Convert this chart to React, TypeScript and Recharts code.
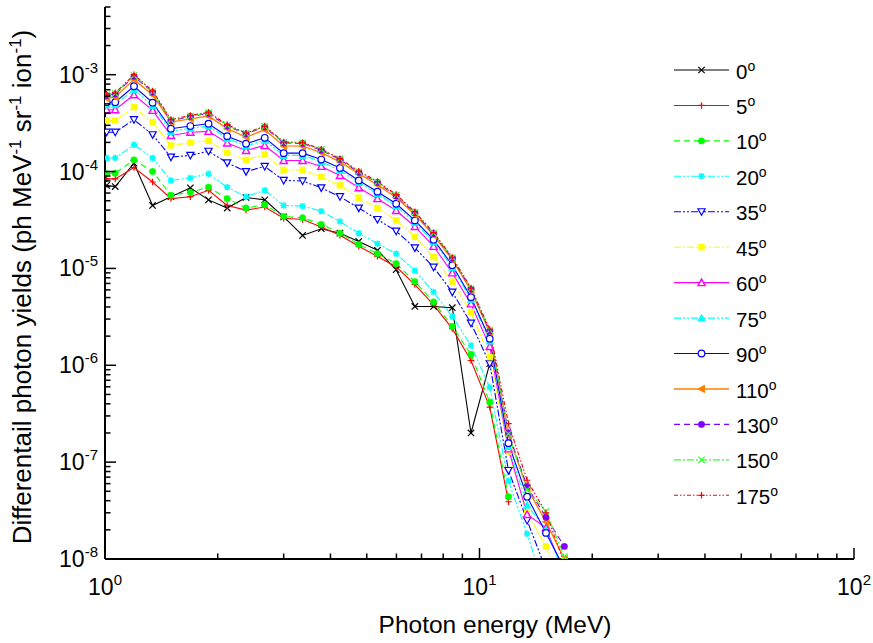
import React from 'react';
import { LineChart, Line, XAxis, YAxis, Legend } from 'recharts';

// Photon energy (MeV)
const ENERGY = [1.01, 1.065, 1.195, 1.34, 1.5, 1.69, 1.89, 2.12, 2.38, 2.67, 3.0, 3.37, 3.78, 4.24, 4.76, 5.34, 5.99, 6.72, 7.54, 8.46, 9.49, 10.65, 11.95, 13.4, 15.05, 16.85];

// Differential photon yields per angle
const Y0 = [7.2e-5, 7.0e-5, 1.22e-4, 4.47e-5, 5.5e-5, 6.8e-5, 5.1e-5, 4.2e-5, 5.4e-5, 5.1e-5, 3.4e-5, 2.19e-5, 2.57e-5, 2.31e-5, 1.9e-5, 1.54e-5, 9.7e-6, 4.05e-6, 4.05e-6, 3.93e-6, 2.0e-7, 1.04e-6, null, null, null, null];
const Y5 = [8.4e-5, 8.4e-5, 1.1e-4, 7.8e-5, 5.25e-5, 5.5e-5, 6.4e-5, 4.47e-5, 4.0e-5, 4.3e-5, 3.3e-5, 3.2e-5, 2.67e-5, 2.2e-5, 1.69e-5, 1.33e-5, 1.04e-5, 6.8e-6, 4.2e-6, 2.39e-6, 1.12e-6, 3.7e-7, 3.9e-8, null, null, null];
const Y10 = [9.5e-5, 9.6e-5, 1.32e-4, 1.0e-4, 5.7e-5, 6.1e-5, 6.9e-5, 5.25e-5, 4.2e-5, 4.54e-5, 3.44e-5, 3.33e-5, 2.85e-5, 2.31e-5, 1.77e-5, 1.42e-5, 1.12e-5, 7.3e-6, 4.5e-6, 2.52e-6, 1.29e-6, 4.16e-7, 4.4e-8, null, null, null];
const Y20 = [1.38e-4, 1.38e-4, 1.89e-4, 1.38e-4, 8.1e-5, 8.6e-5, 9.5e-5, 6.9e-5, 5.5e-5, 6.4e-5, 4.47e-5, 4.4e-5, 3.9e-5, 3.05e-5, 2.31e-5, 1.8e-5, 1.42e-5, 9.5e-6, 5.7e-6, 3.19e-6, 1.6e-6, 5.9e-7, 6.4e-8, 1.82e-8, 4.5e-9, null];
const Y35 = [2.55e-4, 2.55e-4, 3.43e-4, 2.4e-4, 1.41e-4, 1.47e-4, 1.62e-4, 1.23e-4, 1.0e-4, 1.13e-4, 8.1e-5, 8.0e-5, 6.8e-5, 5.5e-5, 4.2e-5, 3.2e-5, 2.43e-5, 1.63e-5, 1.03e-5, 5.7e-6, 2.72e-6, 1.04e-6, 8.2e-8, 2.5e-8, 7.8e-9, null];
const Y45 = [3.37e-4, 3.37e-4, 4.63e-4, 3.24e-4, 1.86e-4, 1.99e-4, 2.08e-4, 1.57e-4, 1.32e-4, 1.5e-4, 1.04e-4, 1.04e-4, 8.8e-5, 7.2e-5, 5.37e-5, 4.2e-5, 3.13e-5, 2.12e-5, 1.31e-5, 7.3e-6, 3.54e-6, 1.21e-6, 1.29e-7, 3.0e-8, 1.35e-8, 4e-9];
const Y60 = [4.35e-4, 4.35e-4, 6.2e-4, 4.28e-4, 2.36e-4, 2.55e-4, 2.6e-4, 1.97e-4, 1.65e-4, 1.86e-4, 1.3e-4, 1.3e-4, 1.13e-4, 9.1e-5, 6.8e-5, 5.25e-5, 3.96e-5, 2.71e-5, 1.69e-5, 9.0e-6, 4.3e-6, 1.56e-6, 1.37e-7, 2.88e-8, 2.1e-8, 7e-9];
const Y75 = [4.9e-4, 4.9e-4, 7.0e-4, 4.8e-4, 2.6e-4, 2.8e-4, 2.95e-4, 2.2e-4, 1.84e-4, 2.1e-4, 1.47e-4, 1.47e-4, 1.26e-4, 1.03e-4, 7.7e-5, 5.9e-5, 4.4e-5, 2.97e-5, 1.88e-5, 1.02e-5, 4.8e-6, 1.78e-6, 1.45e-7, 3.6e-8, 2.0e-8, 7e-9];
const Y90 = [5.2e-4, 5.2e-4, 7.6e-4, 5.14e-4, 2.77e-4, 2.95e-4, 3.12e-4, 2.32e-4, 1.94e-4, 2.23e-4, 1.55e-4, 1.55e-4, 1.33e-4, 1.09e-4, 8.1e-5, 6.2e-5, 4.65e-5, 3.13e-5, 1.98e-5, 1.08e-5, 5.05e-6, 1.88e-6, 1.57e-7, 4.4e-8, 1.86e-8, 8e-9];
const Y110 = [5.7e-4, 5.9e-4, 8.9e-4, 6.2e-4, 3.24e-4, 3.5e-4, 3.74e-4, 2.77e-4, 2.27e-4, 2.7e-4, 1.84e-4, 1.83e-4, 1.57e-4, 1.26e-4, 9.5e-5, 7.3e-5, 5.4e-5, 3.6e-5, 2.2e-5, 1.23e-5, 5.9e-6, 2.2e-6, 1.9e-7, 5.4e-8, 2.42e-8, 1.0e-8];
const Y130 = [6.1e-4, 6.3e-4, 9.6e-4, 6.6e-4, 3.35e-4, 3.7e-4, 3.98e-4, 2.95e-4, 2.45e-4, 2.88e-4, 1.97e-4, 1.95e-4, 1.66e-4, 1.33e-4, 9.8e-5, 7.7e-5, 5.6e-5, 3.75e-5, 2.28e-5, 1.27e-5, 6.1e-6, 2.25e-6, 2.0e-7, 5.6e-8, 2.7e-8, 1.35e-8];
const Y150 = [6.2e-4, 6.4e-4, 9.8e-4, 6.7e-4, 3.4e-4, 3.74e-4, 4.05e-4, 3.0e-4, 2.48e-4, 2.92e-4, 2.0e-4, 1.98e-4, 1.69e-4, 1.35e-4, 1.0e-4, 7.8e-5, 5.7e-5, 3.8e-5, 2.32e-5, 1.29e-5, 6.2e-6, 2.3e-6, 1.96e-7, 5.2e-8, 3.1e-8, 1.06e-8];
const Y175 = [6.3e-4, 6.5e-4, 1.0e-3, 6.8e-4, 3.45e-4, 3.8e-4, 4.1e-4, 3.05e-4, 2.5e-4, 2.95e-4, 2.02e-4, 2.0e-4, 1.7e-4, 1.36e-4, 1.01e-4, 7.9e-5, 5.8e-5, 3.85e-5, 2.35e-5, 1.3e-5, 6.3e-6, 2.35e-6, 2.5e-7, 6.5e-8, 3.0e-8, 9e-9];

const ANGLES = ['0', '5', '10', '20', '35', '45', '60', '75', '90', '110', '130', '150', '175'];
const VALUES = [Y0, Y5, Y10, Y20, Y35, Y45, Y60, Y75, Y90, Y110, Y130, Y150, Y175];

// Ticks
const X_TICKS = [1, 2, 3, 4, 5, 6, 7, 8, 9, 10, 20, 30, 40, 50, 60, 70, 80, 90, 100];
const Y_TICKS = [
  1e-8, 2e-8, 3e-8, 4e-8, 5e-8, 6e-8, 7e-8, 8e-8, 9e-8,
  1e-7, 2e-7, 3e-7, 4e-7, 5e-7, 6e-7, 7e-7, 8e-7, 9e-7,
  1e-6, 2e-6, 3e-6, 4e-6, 5e-6, 6e-6, 7e-6, 8e-6, 9e-6,
  1e-5, 2e-5, 3e-5, 4e-5, 5e-5, 6e-5, 7e-5, 8e-5, 9e-5,
  1e-4, 2e-4, 3e-4, 4e-4, 5e-4, 6e-4, 7e-4, 8e-4, 9e-4,
  1e-3, 2e-3, 3e-3, 4e-3, 5e-3,
];

const FONT = '"Liberation Sans", Arial, sans-serif';

type Style = { color: string; dash?: string; marker: string; width?: number };
const STYLES: Style[] = [
  { color: '#000000', marker: 'x' },
  { color: '#ff0000', marker: 'plus' },
  { color: '#00ff00', dash: '6 4', marker: 'dot' },
  { color: '#00ffff', dash: '7 2 2 2 2 2', marker: 'star' },
  { color: '#0000ff', dash: '7 2 2 2 2 2', marker: 'triDownOpen' },
  { color: '#ffff00', dash: '7 2 2 2', marker: 'square' },
  { color: '#ff00ff', marker: 'triUpOpen' },
  { color: '#00ffff', dash: '7 2 2 2 2 2', marker: 'triUp' },
  { color: '#0000ff', marker: 'circleOpen' },
  { color: '#ff8000', marker: 'triLeft', width: 1.4 },
  { color: '#8000ff', dash: '6 4', marker: 'dot' },
  { color: '#33ff33', dash: '7 2 2 2', marker: 'x' },
  { color: '#ff0000', dash: '4 2 1.5 2 1.5 2', marker: 'plus' },
];

const data = ENERGY.map((e, i) => {
  const row: Record<string, number | null> = { x: e };
  ANGLES.forEach((a, k) => {
    row['a' + a] = VALUES[k][i];
  });
  return row;
});

function markerShape(shape: string, cx: number, cy: number, color: string, key?: string | number) {
  const s = 3.2;
  switch (shape) {
    case 'x':
      return <path key={key} d={`M${cx - s},${cy - s}L${cx + s},${cy + s}M${cx - s},${cy + s}L${cx + s},${cy - s}`} stroke={color} strokeWidth={1.2} fill="none" />;
    case 'plus':
      return <path key={key} d={`M${cx - s},${cy}L${cx + s},${cy}M${cx},${cy - s}L${cx},${cy + s}`} stroke={color} strokeWidth={1.2} fill="none" />;
    case 'dot':
      return <circle key={key} cx={cx} cy={cy} r={3.2} fill={color} stroke={color} strokeWidth={0.5} />;
    case 'star':
      return <path key={key} d={`M${cx - s},${cy}L${cx + s},${cy}M${cx},${cy - s}L${cx},${cy + s}M${cx - 2.4},${cy - 2.4}L${cx + 2.4},${cy + 2.4}M${cx - 2.4},${cy + 2.4}L${cx + 2.4},${cy - 2.4}`} stroke={color} strokeWidth={1.6} fill="none" />;
    case 'triDownOpen':
      return <path key={key} d={`M${cx - 3.6},${cy - 3}L${cx + 3.6},${cy - 3}L${cx},${cy + 3.6}Z`} stroke={color} strokeWidth={1.2} fill="#ffffff" />;
    case 'square':
      return <rect key={key} x={cx - 3.2} y={cy - 3.2} width={6.4} height={6.4} fill={color} />;
    case 'triUpOpen':
      return <path key={key} d={`M${cx - 3.6},${cy + 3}L${cx + 3.6},${cy + 3}L${cx},${cy - 3.6}Z`} stroke={color} strokeWidth={1.4} fill="#ffffff" />;
    case 'triUp':
      return <path key={key} d={`M${cx - 3.6},${cy + 3}L${cx + 3.6},${cy + 3}L${cx},${cy - 3.6}Z`} stroke={color} strokeWidth={1} fill={color} />;
    case 'circleOpen':
      return <circle key={key} cx={cx} cy={cy} r={3.3} fill="#ffffff" stroke={color} strokeWidth={1.2} />;
    case 'triLeft':
      return <path key={key} d={`M${cx + 3},${cy - 3.6}L${cx + 3},${cy + 3.6}L${cx - 3.6},${cy}Z`} stroke={color} strokeWidth={1} fill={color} />;
    default:
      return <circle key={key} cx={cx} cy={cy} r={3} fill={color} />;
  }
}

const isMajor = (v: number) => Math.abs(Math.log10(v) - Math.round(Math.log10(v))) < 1e-6;
const expOf = (v: number) => Math.round(Math.log10(v));

const XTickBottom = (props: any) => {
  const { x, y, payload } = props;
  const v = payload.value;
  const major = isMajor(v);
  return (
    <g>
      <line x1={x} y1={y} x2={x} y2={y - (major ? 11 : 5.5)} stroke="#000" strokeWidth={1.5} />
      {major && (
        <text x={x} y={y + 36} textAnchor="middle" fontFamily={FONT} fontSize={23} fill="#000">
          10<tspan dy={-10} fontSize={15}>{expOf(v)}</tspan>
        </text>
      )}
    </g>
  );
};

const XTickTop = (props: any) => {
  const { x, y, payload } = props;
  const major = isMajor(payload.value);
  return <line x1={x} y1={y} x2={x} y2={y + (major ? 11 : 5.5)} stroke="#000" strokeWidth={1.5} />;
};

const YTickLeft = (props: any) => {
  const { x, y, payload } = props;
  const v = payload.value;
  const major = isMajor(v);
  return (
    <g>
      <line x1={x} y1={y} x2={x + (major ? 11 : 5.5)} y2={y} stroke="#000" strokeWidth={1.5} />
      {major && (
        <text x={x - 7} y={y + 8} textAnchor="end" fontFamily={FONT} fontSize={23} fill="#000">
          10<tspan dy={-10} fontSize={15}>{String(expOf(v))}</tspan>
        </text>
      )}
    </g>
  );
};

const YTickRight = (props: any) => {
  const { x, y, payload } = props;
  const major = isMajor(payload.value);
  return <line x1={x} y1={y} x2={x - (major ? 11 : 5.5)} y2={y} stroke="#000" strokeWidth={1.5} />;
};

const YTitle = () => {
  const cx = 31;
  const cy = 287;
  return (
    <text x={cx} y={cy} transform={`rotate(-90 ${cx} ${cy})`} textAnchor="middle" fontFamily={FONT} fontSize={26} fill="#000">
      Differentail photon yields (ph MeV<tspan dy={-10} fontSize={17}>-1</tspan>
      <tspan dy={10}> sr</tspan>
      <tspan dy={-10} fontSize={17}>-1</tspan>
      <tspan dy={10}> ion</tspan>
      <tspan dy={-10} fontSize={17}>-1</tspan>
      <tspan dy={10}>)</tspan>
    </text>
  );
};

const XTitle = () => (
  <text x={495} y={633} textAnchor="middle" fontFamily={FONT} fontSize={24.5} fill="#000">
    Photon energy (MeV)
  </text>
);

const LegendBox = () => {
  const x0 = 674;
  const x1 = 729;
  const y0 = 70;
  const step = 35.44;
  return (
    <svg width={873} height={643} style={{ position: 'absolute', left: 0, top: 0, overflow: 'visible' }}>
      {ANGLES.map((a, i) => {
        const st = STYLES[i];
        const y = y0 + i * step;
        return (
          <g key={a}>
            <line x1={x0} y1={y} x2={x1} y2={y} stroke={st.color} strokeWidth={st.width || 1.1} strokeDasharray={st.dash} />
            {markerShape(st.marker, (x0 + x1) / 2, y, st.color)}
            <text x={736} y={y + 8.6} fontFamily={FONT} fontSize={20.5} fill="#000">
              {a}
              <tspan dy={-8} fontSize={14}>o</tspan>
            </text>
          </g>
        );
      })}
    </svg>
  );
};

export default function App() {
  return (
    <div style={{ position: 'absolute', left: 0, top: 0, background: '#fff' }}>
      <LineChart width={873} height={643} data={data} margin={{ top: 7, right: 19, bottom: 0, left: 0 }}>
        <XAxis
          dataKey="x"
          type="number"
          scale="log"
          domain={[1, 100]}
          allowDataOverflow
          ticks={X_TICKS}
          interval={0}
          tickSize={0}
          tickMargin={0}
          tickLine={false}
          tick={<XTickBottom />}
          height={84}
          axisLine={{ stroke: '#000', strokeWidth: 2 }}
          label={<XTitle />}
        />
        <XAxis
          xAxisId="top"
          orientation="top"
          dataKey="x"
          type="number"
          scale="log"
          domain={[1, 100]}
          allowDataOverflow
          ticks={X_TICKS}
          interval={0}
          tickSize={0}
          tickMargin={0}
          tickLine={false}
          tick={<XTickTop />}
          height={0}
          axisLine={{ stroke: '#000', strokeWidth: 2 }}
        />
        <YAxis
          type="number"
          scale="log"
          domain={[1e-8, 5e-3]}
          allowDataOverflow
          ticks={Y_TICKS}
          interval={0}
          tickSize={0}
          tickMargin={0}
          tickLine={false}
          tick={<YTickLeft />}
          width={105}
          axisLine={{ stroke: '#000', strokeWidth: 2 }}
          label={<YTitle />}
        />
        <YAxis
          yAxisId="right"
          orientation="right"
          type="number"
          scale="log"
          domain={[1e-8, 5e-3]}
          allowDataOverflow
          ticks={Y_TICKS}
          interval={0}
          tickSize={0}
          tickMargin={0}
          tickLine={false}
          tick={<YTickRight />}
          width={0}
          axisLine={{ stroke: '#000', strokeWidth: 2 }}
        />
        {ANGLES.map((a, i) => {
          const st = STYLES[i];
          return (
            <Line
              key={a}
              dataKey={'a' + a}
              type="linear"
              stroke={st.color}
              strokeWidth={st.width || 1.1}
              strokeDasharray={st.dash}
              isAnimationActive={false}
              connectNulls={false}
              dot={(p: any) => {
                if (p.cx == null || p.cy == null || p.value == null) return <g key={p.key || p.index} />;
                return markerShape(st.marker, p.cx, p.cy, st.color, p.key || `${a}-${p.index}`);
              }}
              activeDot={false}
            />
          );
        })}
        <Legend
          layout="vertical"
          align="center"
          verticalAlign="middle"
          wrapperStyle={{ left: 0, top: 0, width: 873, height: 643, pointerEvents: 'none' }}
          content={() => <LegendBox />}
        />
      </LineChart>
    </div>
  );
}
